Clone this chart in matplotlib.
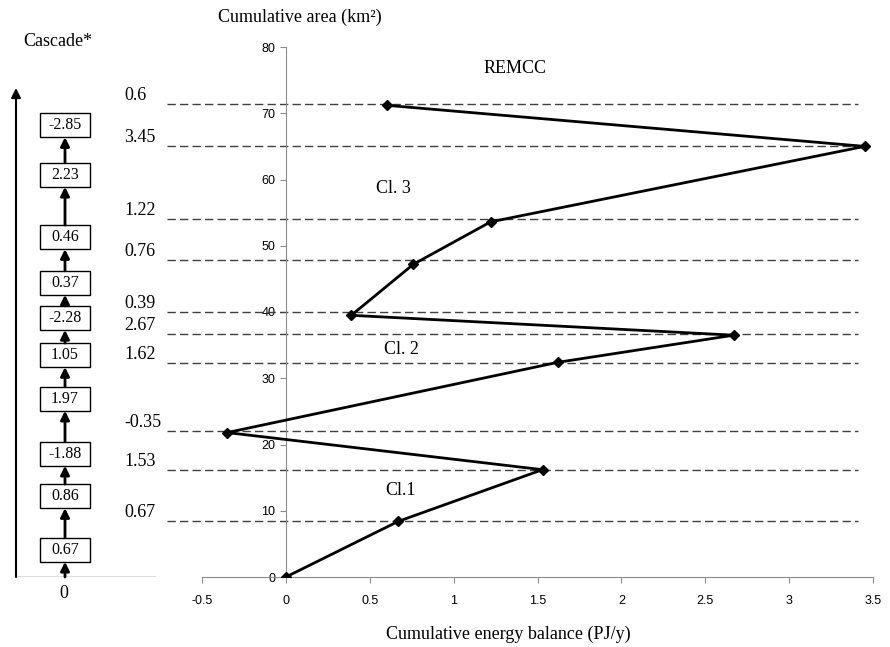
import matplotlib.pyplot as plt
from matplotlib.patches import Rectangle
from matplotlib.ticker import FormatStrFormatter, MultipleLocator

plt.rcParams['font.family'] = ['Liberation Serif', 'DejaVu Serif']

# cumulative curve (energy balance PJ/y vs cumulative area km2)
energy = [0, 0.67, 1.53, -0.35, 1.62, 2.67, 0.39, 0.76, 1.22, 3.45, 0.6]
area = [0, 8.4, 16.2, 21.8, 32.4, 36.5, 39.5, 47.2, 53.6, 65.0, 71.2]

# dashed reference levels with their labels on the left
levels = [8.5, 16.2, 22.0, 32.3, 36.7, 40.0, 47.8, 54.0, 65.1, 71.4]
level_labels = ["0.67", "1.53", "-0.35", "1.62", "2.67", "0.39", "0.76", "1.22", "3.45", "0.6"]

# cascade boxes, bottom to top
cascade_values = ["0.67", "0.86", "-1.88", "1.97", "1.05", "-2.28", "0.37", "0.46", "2.23", "-2.85"]
cascade_pos = [4.1, 12.2, 18.6, 26.9, 33.5, 39.1, 44.4, 51.3, 60.7, 68.2]

W, H = 890, 647
fig = plt.figure(figsize=(W / 100, H / 100), dpi=100)
ax_l, ax_r, ax_b, ax_t = 202, 873, 577, 47
ax = fig.add_axes([ax_l / W, 1 - ax_b / H, (ax_r - ax_l) / W, (ax_b - ax_t) / H])

ax.plot(energy, area, color='black', lw=2, marker='D', markersize=5, zorder=3)

for lvl in levels:
    ax.plot([-0.052, 0.978], [lvl, lvl], transform=ax.get_yaxis_transform(),
            color='#404040', lw=1, dashes=(6, 3), clip_on=False, zorder=2)
for lvl, lab in zip(levels, level_labels):
    ax.annotate(lab, xy=(124 / W, lvl), xycoords=('figure fraction', 'data'),
                xytext=(0, 3), textcoords='offset points',
                ha='left', va='baseline', fontsize=13)

ax.set_xlim(-0.5, 3.5)
ax.set_ylim(0, 80)
ax.xaxis.set_major_locator(MultipleLocator(0.5))
ax.yaxis.set_major_locator(MultipleLocator(10))
ax.xaxis.set_major_formatter(FormatStrFormatter('%g'))
ax.spines['left'].set_position(('data', 0))
for s in ['top', 'right']:
    ax.spines[s].set_visible(False)
for s in ['left', 'bottom']:
    ax.spines[s].set_color('#8c8c8c')
ax.tick_params(colors='#8c8c8c', length=4, labelcolor='black', labelsize=9)
ax.tick_params(axis='x', pad=9)
for lab in ax.get_xticklabels() + ax.get_yticklabels():
    lab.set_fontfamily('Liberation Sans')

ax.text(1.365, 76.8, "REMCC", ha='center', va='center', fontsize=13)
ax.text(0.64, 58.7, "Cl. 3", ha='center', va='center', fontsize=13)
ax.text(0.69, 34.3, "Cl. 2", ha='center', va='center', fontsize=13)
ax.text(0.686, 13.1, "Cl.1", ha='center', va='center', fontsize=13)

fig.text(218 / W, 1 - 17 / H, "Cumulative area (km\u00b2)", ha='left', va='center', fontsize=13)
fig.text(508 / W, 1 - 634 / H, "Cumulative energy balance (PJ/y)", ha='center', va='center', fontsize=13)

# cascade panel on the left
cx = fig.add_axes([0, 1 - ax_b / H, 190 / W, (ax_b - ax_t) / H])
cx.set_xlim(0, 190)
cx.set_ylim(0, 80)
cx.axis('off')
px = 80 / (ax_b - ax_t)
bx, bw, bh = 65, 50, 24 * px
cx.plot([16, 155], [0, 0], color='#555555', lw=1)
cx.annotate('', xy=(16, (ax_b - 88) * px), xytext=(16, 0),
            arrowprops=dict(arrowstyle='-|>', lw=1.5, color='black', mutation_scale=14,
                            shrinkA=0, shrinkB=0))
prev_top = 0
for val, yc in zip(cascade_values, cascade_pos):
    cx.add_patch(Rectangle((bx - bw / 2, yc - bh / 2), bw, bh, fill=False, ec='black', lw=1))
    cx.text(bx, yc, val, ha='center', va='center', fontsize=11.5)
    cx.annotate('', xy=(bx, yc - bh / 2), xytext=(bx, prev_top),
                arrowprops=dict(arrowstyle='-|>', lw=2, color='black', mutation_scale=13,
                                shrinkA=0, shrinkB=0))
    prev_top = yc + bh / 2
fig.text(64 / W, 1 - 593 / H, "0", ha='center', va='center', fontsize=13)
fig.text(58 / W, 1 - 42 / H, "Cascade*", ha='center', va='center', fontsize=13)

fig.savefig("out.png", dpi=100)
